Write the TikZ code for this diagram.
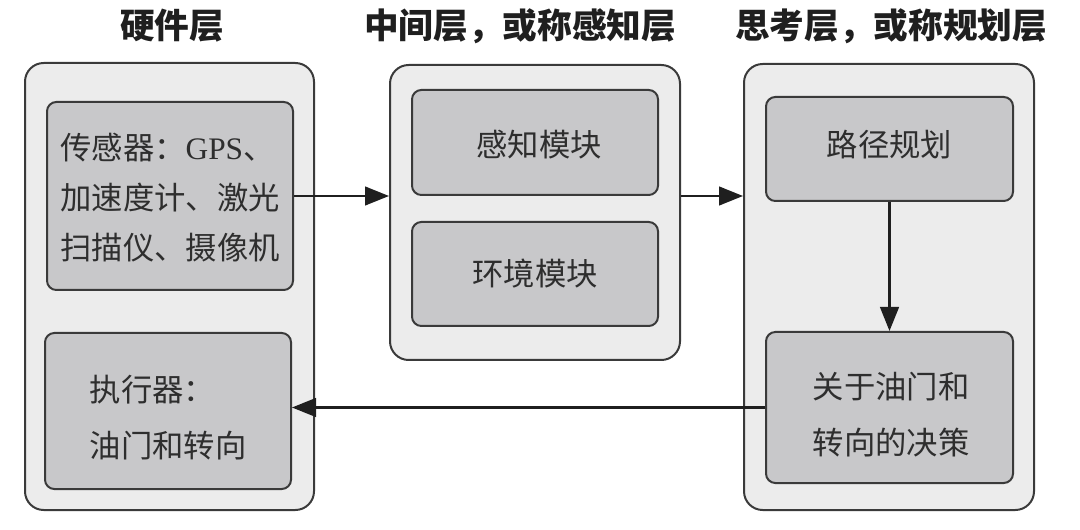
\documentclass[tikz,border=0pt]{standalone}
\usepackage{fontspec}
\setmainfont{Noto Sans CJK SC}
\newfontfamily\latserif{Liberation Serif}
\usetikzlibrary{arrows.meta}
\definecolor{outerfill}{HTML}{ECECEC}
\definecolor{innerfill}{HTML}{C8C8CA}
\definecolor{edgegray}{HTML}{3A3A3A}
\definecolor{inkgray}{HTML}{2E2E2E}
\begin{document}
\begin{tikzpicture}[x=0.75pt,y=-0.75pt,
  layerbox/.style={draw=edgegray, line width=1.5pt, fill=outerfill, rounded corners=14pt, inner sep=0pt},
  modbox/.style={draw=edgegray, line width=1.5pt, fill=innerfill, rounded corners=7pt, inner sep=0pt},
  modtext/.style={text=inkgray, font=\fontsize{23.5}{37.5}\selectfont, align=left, inner sep=0pt},
  modtextwide/.style={modtext, font=\fontsize{23.5}{42}\selectfont},
  layertitle/.style={font=\fontsize{26}{30}\selectfont\bfseries, text=black!88, inner sep=0pt},
  flow/.style={draw=black!88, line width=1.8pt, -{Triangle[length=18pt,width=14pt]}}]
\useasboundingbox (0,0) rectangle (1080,530);

% titles
\node[layertitle] (t1) at (172,26) {硬件层};
\node[layertitle] (t2) at (520,26) {中间层，或称感知层};
\node[layertitle] (t3) at (891,26) {思考层，或称规划层};

% layer boxes
\node[layerbox, minimum width=216.75pt, minimum height=335.25pt] (hw) at (169.5,286.5) {};
\node[layerbox, minimum width=217.5pt, minimum height=221.25pt] (mid) at (535,212.5) {};
\node[layerbox, minimum width=217.5pt, minimum height=334.5pt] (think) at (889,287) {};

% module boxes
\node[modbox, minimum width=184.5pt, minimum height=141pt] (sensor) at (170,196) {};
\node[modtext] (sensortxt) at (170,198) {传感器：{\latserif GPS}、\\加速度计、激光\\扫描仪、摄像机};

\node[modbox, minimum width=184.5pt, minimum height=117pt] (act) at (168,411) {};
\node[modtextwide] (acttxt) at (168,418) {执行器：\\油门和转向};

\node[modbox, minimum width=184.5pt, minimum height=78.75pt] (percep) at (535,142.5) {};
\node[modtext] (perceptxt) at (539,145) {感知模块};

\node[modbox, minimum width=184.5pt, minimum height=78pt] (env) at (535,274) {};
\node[modtext] (envtxt) at (535,274) {环境模块};

\node[modbox, minimum width=185.25pt, minimum height=78pt] (path) at (889.5,149) {};
\node[modtext] (pathtxt) at (889.5,145) {路径规划};

\node[modbox, minimum width=185.25pt, minimum height=113.25pt] (decide) at (889.5,407.5) {};
\node[modtextwide] (decidetxt) at (891,415) {关于油门和\\转向的决策};

% connectors
\draw[flow] (sensor.east) -- (sensor.east -| mid.west);
\draw[flow] (mid.east |- percep.south) -- (think.west |- percep.south);
\draw[flow] (path.south) -- (decide.north);
\draw[flow] (decide.west) -- (decide.west -| act.east);
\end{tikzpicture}
\end{document}
